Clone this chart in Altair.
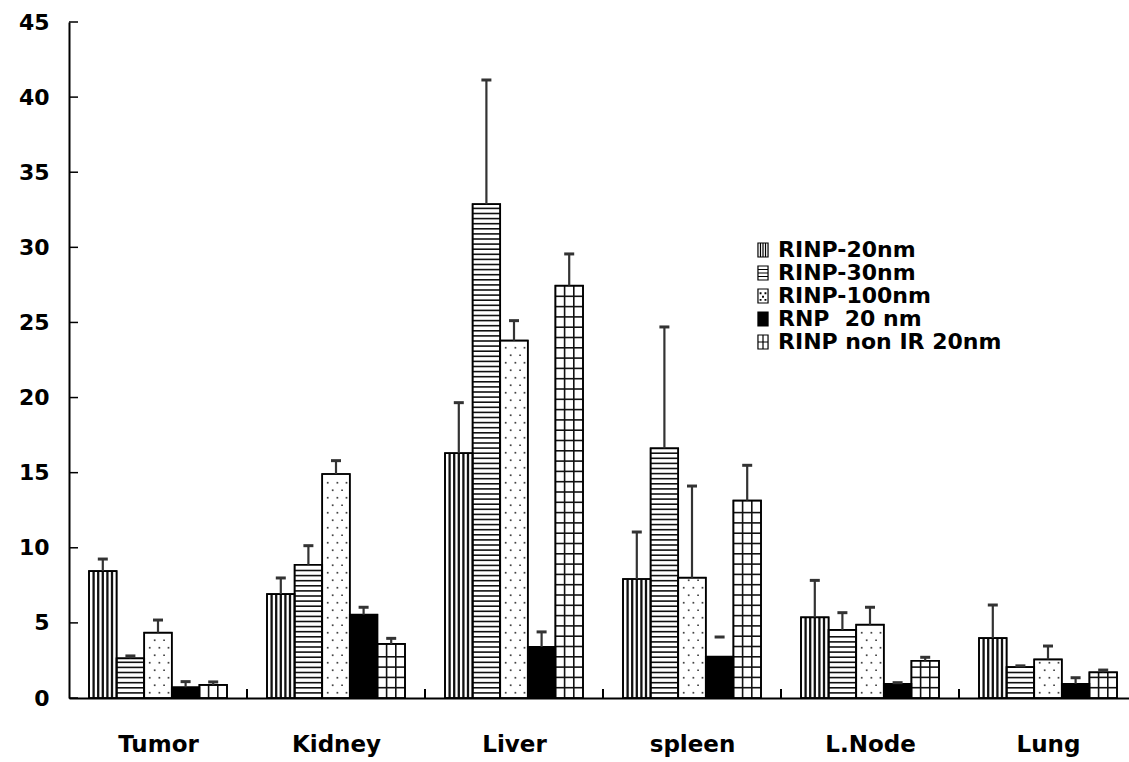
import altair as alt
import numpy as np
import pandas as pd

# ---------------- data ----------------
organs = ["Tumor", "Kidney", "Liver", "spleen", "L.Node", "Lung"]
series = ["RINP-20nm", "RINP-30nm", "RINP-100nm", "RNP\u00a0 20 nm", "RINP non IR 20nm"]

rinp20 = [8.45, 6.92, 16.30, 7.92, 5.37, 3.99]
rinp20_err = [0.80, 1.07, 3.36, 3.13, 2.46, 2.20]
rinp30 = [2.64, 8.87, 32.87, 16.62, 4.53, 2.06]
rinp30_err = [0.16, 1.27, 8.27, 8.08, 1.15, 0.08]
rinp100 = [4.35, 14.91, 23.79, 8.01, 4.88, 2.57]
rinp100_err = [0.84, 0.89, 1.33, 6.10, 1.16, 0.89]
rnp20 = [0.71, 5.55, 3.40, 2.75, 0.95, 0.95]
rnp20_err = [0.38, 0.49, 1.00, 1.31, 0.07, 0.40]
nonir20 = [0.87, 3.60, 27.45, 13.14, 2.48, 1.71]
nonir20_err = [0.20, 0.37, 2.11, 2.35, 0.23, 0.15]

# error bar drawn as a cap only (no visible stem) in the original
stem_hidden = [("spleen", "RNP\u00a0 20 nm")]

y_ticks = [0, 5, 10, 15, 20, 25, 30, 35, 40, 45]

# ---------------- styling / layout ----------------
FONT = "DejaVu Sans"
W, H = 1060, 676
YMAX = 45
CAT_PX = 178.0
GROUP_PAD_PX = 20.0
BAR_PX = 27.6
XDOM = W / CAT_PX
UX = CAT_PX            # px per x unit
UY = H / YMAX          # px per y unit
off = GROUP_PAD_PX / UX
bw = BAR_PX / UX

fills = ["white", "white", "white", "black", "white"]
patterns = ["vertical", "horizontal", "dots", "solid", "grid"]

values = [rinp20, rinp30, rinp100, rnp20, nonir20]
errors = [rinp20_err, rinp30_err, rinp100_err, rnp20_err, nonir20_err]

rows = []
for i, org in enumerate(organs):
    for j, s in enumerate(series):
        x0 = i + off + j * bw
        v = values[j][i]
        e = errors[j][i]
        rows.append(dict(organ=org, series=s, x0=x0, x1=x0 + bw, xc=x0 + bw / 2,
                         val=v, zero=0.0, upper=v + e, fill=fills[j],
                         pattern=patterns[j],
                         stem=(org, s) not in stem_hidden,
                         capl=x0 + bw / 2 - 5.0 / UX, capr=x0 + bw / 2 + 5.0 / UX))
bars = pd.DataFrame(rows)

# pattern geometry derived from the bars
vlines, hlines, dots = [], [], []
h_step = 5.1 / UY
g_step = 10.3 / UY
d_step = 7.5 / UY
for r in rows:
    if r["pattern"] == "vertical":
        for k in range(1, 6):
            vlines.append(dict(x=r["x0"] + k * bw / 6, y=0.0, y2=r["val"], w=2.3))
    elif r["pattern"] == "horizontal":
        for yy in np.arange(h_step, r["val"] - h_step * 0.4, h_step):
            hlines.append(dict(x=r["x0"], x2=r["x1"], y=float(yy), w=1.6))
    elif r["pattern"] == "grid":
        for k in (1, 2):
            vlines.append(dict(x=r["x0"] + k * bw / 3, y=0.0, y2=r["val"], w=1.6))
        for yy in np.arange(g_step, r["val"] - g_step * 0.3, g_step):
            hlines.append(dict(x=r["x0"], x2=r["x1"], y=float(yy), w=1.6))
    elif r["pattern"] == "dots":
        for n, yy in enumerate(np.arange(d_step * 0.7, r["val"] - d_step * 0.3, d_step)):
            fr = [0.2, 0.55, 0.88] if n % 2 == 0 else [0.38, 0.72]
            for f in fr:
                dots.append(dict(x=r["x0"] + f * bw, y=float(yy)))
vlines = pd.DataFrame(vlines)
hlines = pd.DataFrame(hlines)
dots = pd.DataFrame(dots)

ytick_df = pd.DataFrame(dict(v=y_ticks))
xtick_df = pd.DataFrame(dict(b=[float(i) for i in range(1, len(organs))]))

xscale = alt.Scale(domain=[0, XDOM], nice=False, zero=False)
yscale = alt.Scale(domain=[0, YMAX], nice=False, zero=True)

label_expr = "[" + ",".join("'" + o + "'" for o in organs) + "][floor(datum.value)]"
x_axis = alt.Axis(values=[i + 0.5 for i in range(len(organs))], labelExpr=label_expr,
                  ticks=False, grid=False, domainColor="black", domainWidth=2,
                  labelFont=FONT, labelFontSize=23, labelFontWeight="bold",
                  labelColor="black", labelPadding=35, labelOverlap=False,
                  labelFlush=False, title=None)
y_axis = alt.Axis(values=y_ticks, ticks=False, grid=False, domainColor="black",
                  domainWidth=2, labelFont=FONT, labelFontSize=22,
                  labelFontWeight="bold", labelColor="black", labelPadding=20,
                  title=None)

def X(f):
    return alt.X(f, type="quantitative", scale=xscale, axis=x_axis)

def Y(f):
    return alt.Y(f, type="quantitative", scale=yscale, axis=y_axis)

base_bars = alt.Chart(bars).mark_rect(stroke="black", strokeWidth=1.5).encode(
    x=X("x0"), x2="x1", y=Y("val"), y2="zero",
    fill=alt.Fill("fill:N", scale=None))

vl = alt.Chart(vlines).mark_rule(color="#111").encode(
    x=X("x"), y=Y("y"), y2="y2", strokeWidth=alt.StrokeWidth("w:Q", scale=None))
hl = alt.Chart(hlines).mark_rule(color="#111").encode(
    x=X("x"), x2="x2", y=Y("y"), strokeWidth=alt.StrokeWidth("w:Q", scale=None))
dt = alt.Chart(dots).mark_square(size=3, color="#444", opacity=1).encode(
    x=X("x"), y=Y("y"))

outline = alt.Chart(bars).mark_rect(stroke="black", strokeWidth=1.7, fillOpacity=0).encode(
    x=X("x0"), x2="x1", y=Y("val"), y2="zero")

stems = alt.Chart(bars).transform_filter("datum.stem").mark_rule(
    color="#333", strokeWidth=2.2).encode(x=X("xc"), y=Y("val"), y2="upper")
caps = alt.Chart(bars).mark_rule(color="#333", strokeWidth=3).encode(
    x=X("capl"), x2="capr", y=Y("upper"))

yt = alt.Chart(ytick_df).mark_rule(color="black", strokeWidth=1.5).encode(
    y=Y("v"), x=alt.value(0), x2=alt.value(9))
xt = alt.Chart(xtick_df).mark_rule(color="black", strokeWidth=2).encode(
    x=X("b"), y=alt.value(H), y2=alt.value(H - 9))

# legend symbols: small patterned squares (custom SVG paths)
box = "M-0.72,-1H0.72V1H-0.72Z"
paths = [
    box + " M-0.36,-1V1 M0,-1V1 M0.36,-1V1",
    box + " M-0.72,-0.5H0.72 M-0.72,0H0.72 M-0.72,0.5H0.72",
    box + " M-0.4,-0.45h0.1v0.1h-0.1Z M0.3,-0.45h0.1v0.1h-0.1Z M-0.05,0.05h0.1v0.1h-0.1Z M-0.4,0.5h0.1v0.1h-0.1Z M0.3,0.5h0.1v0.1h-0.1Z",
    box,
    box + " M0,-1V1 M-0.72,0H0.72",
]
leg = alt.Legend(orient="none", legendX=683, legendY=217, title=None,
                 symbolSize=196, symbolStrokeColor="black", symbolStrokeWidth=1.2,
                 symbolOpacity=1, labelFont=FONT, labelFontSize=22,
                 labelFontWeight="bold", labelColor="black", labelOffset=4,
                 rowPadding=1, padding=0, labelLimit=400)
legend_layer = alt.Chart(bars).mark_point(filled=True, opacity=0, stroke="black").encode(
    x=X("xc"), y=Y("val"),
    shape=alt.Shape("series:N", scale=alt.Scale(domain=series, range=paths), legend=leg),
    fill=alt.Fill("series:N", scale=alt.Scale(domain=series, range=fills), legend=leg),
)

chart = alt.layer(base_bars, vl, hl, dt, outline, stems, caps, yt, xt, legend_layer).properties(
    width=W, height=H,
    autosize=alt.AutoSizeParams(type="none"),
    padding={"left": 69, "top": 22, "right": 0, "bottom": 64},
    background="white",
).configure_view(stroke=None)

chart.save("out.html", embed_options={"renderer": "svg", "actions": False})
